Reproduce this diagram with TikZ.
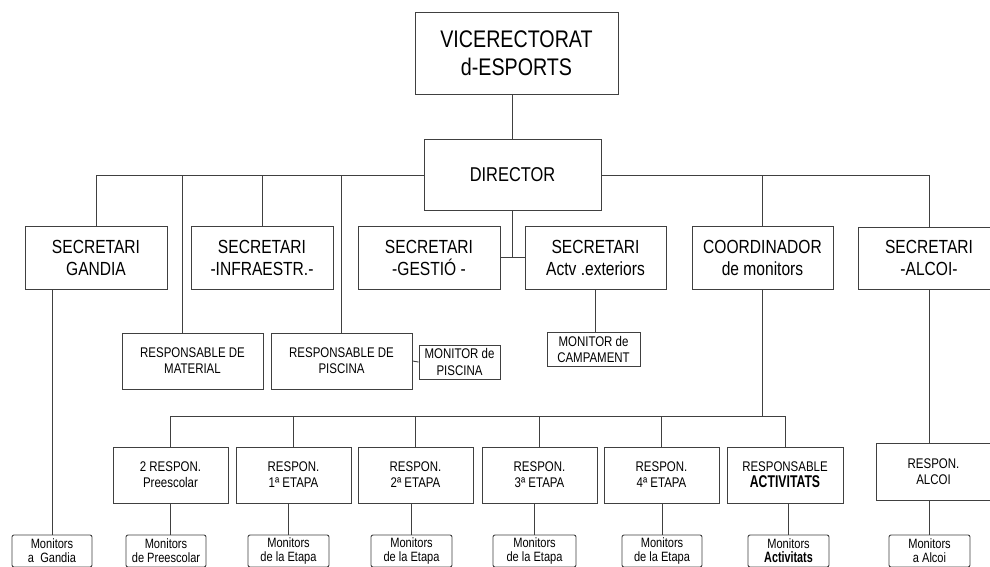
\documentclass[tikz,border=0pt]{standalone}
\usepackage{fontspec}
\setmainfont{Liberation Sans}[FakeStretch=0.82]
\newfontfamily\condb{Liberation Sans}[FakeStretch=0.72]
\begin{document}
\begin{tikzpicture}[x=1pt,y=-1pt,
  box/.style={draw=black!75, line width=0.9pt, inner sep=0pt, align=center, fill=white},
  mbox/.style={box, rounded corners=2pt},
  big/.style={font=\fontsize{19}{22}\selectfont},
  small/.style={font=\fontsize{14}{16}\selectfont},
  tiny/.style={font=\fontsize{13.5}{14}\selectfont},
  conn/.style={draw=black!75, line width=0.9pt}]
\clip (0,0) rectangle (990,566);
\fill[white] (0,0) rectangle (990,566);

% top
\node[box, minimum width=203, minimum height=82, font=\fontsize{24}{28}\selectfont] (vice) at (516.5,53) {VICERECTORAT\\d-ESPORTS};
\node[box, minimum width=177, minimum height=71, font=\fontsize{20}{23}\selectfont] (dir) at (512.5,175) {DIRECTOR};

% second row
\node[box, big, minimum width=142, minimum height=63] (gandia) at (96,257.5) {SECRETARI\\GANDIA};
\node[box, big, minimum width=142, minimum height=63] (infra) at (262,257.5) {SECRETARI\\-INFRAESTR.-};
\node[box, big, minimum width=142, minimum height=63] (gestio) at (429,257.5) {SECRETARI\\-GESTIÓ -};
\node[box, big, minimum width=141, minimum height=63] (actv) at (595.5,257.5) {SECRETARI\\Actv .exteriors};
\node[box, big, minimum width=141, minimum height=63] (coord) at (762.5,257.5) {COORDINADOR\\de monitors};
\node[box, big, minimum width=142, minimum height=62] (alcoi) at (929,258) {SECRETARI\\-ALCOI-};

% third row
\node[box, small, minimum width=141, minimum height=56] (material) at (192.5,361) {RESPONSABLE DE\\MATERIAL};
\node[box, small, minimum width=141, minimum height=56] (piscina) at (341.5,361) {RESPONSABLE DE\\PISCINA};
\node[box, font=\fontsize{14}{17}\selectfont, minimum width=81, minimum height=34] (monpis) at (459.5,362) {MONITOR de\\PISCINA};
\node[box, font=\fontsize{14}{16}\selectfont, minimum width=93, minimum height=34] (camp) at (593.5,349) {MONITOR de\\CAMPAMENT};

% responsables row
\node[box, small, minimum width=115, minimum height=56] (presc) at (170.5,475) {2 RESPON.\\Preescolar};
\node[box, small, minimum width=115, minimum height=56] (et1) at (293.5,475) {RESPON.\\1ª ETAPA};
\node[box, small, minimum width=115, minimum height=56] (et2) at (415.5,475) {RESPON.\\2ª ETAPA};
\node[box, small, minimum width=115, minimum height=56] (et3) at (539.5,475) {RESPON.\\3ª ETAPA};
\node[box, small, minimum width=115, minimum height=56] (et4) at (661.5,475) {RESPON.\\4ª ETAPA};
\node[box, small, minimum width=116, minimum height=56] (act) at (785,475) {RESPONSABLE\\{\condb\bfseries\fontsize{17}{17}\selectfont ACTIVITATS}};
\node[box, small, minimum width=115, minimum height=57] (ralcoi) at (933.5,471.5) {RESPON.\\ALCOI};

% monitors row
\node[mbox, tiny, minimum width=80, minimum height=32] (mg) at (52,551) {Monitors\\a\ \ Gandia};
\node[mbox, tiny, minimum width=80, minimum height=32] (mp) at (166,551) {Monitors\\de Preescolar};
\node[mbox, tiny, minimum width=81, minimum height=32] (m1) at (288.5,551) {Monitors\\de la Etapa};
\node[mbox, tiny, minimum width=81, minimum height=32] (m2) at (411.5,551) {Monitors\\de la Etapa};
\node[mbox, tiny, minimum width=83, minimum height=32] (m3) at (534.5,551) {Monitors\\de la Etapa};
\node[mbox, tiny, minimum width=80, minimum height=32] (m4) at (662,551) {Monitors\\de la Etapa};
\node[mbox, tiny, minimum width=81, minimum height=32] (ma) at (788.5,551) {Monitors\\{\condb\bfseries\fontsize{15}{14}\selectfont Activitats}};
\node[mbox, tiny, minimum width=81, minimum height=32] (mal) at (929.5,551) {Monitors\\a Alcoi};

% connectors
\draw[conn] (dir.north) -- (dir.north |- vice.south);
\draw[conn] (dir.west) -| (gandia.north);
\draw[conn] (dir.west) -| ([xshift=-10.5pt]material.north);
\draw[conn] (dir.west) -| (infra.north);
\draw[conn] (dir.west) -| (piscina.north);
\draw[conn] (dir.east) -| (coord.north);
\draw[conn] (dir.east) -| (alcoi.north);
\draw[conn] (dir.south) -- (dir.south |- gestio.east);
\draw[conn] (gestio.east) -- (actv.west);
\draw[conn] (mg.north |- gandia.south) -- (mg.north);
\draw[conn] (actv.south) -- (actv.south |- camp.north);
\draw[conn] (piscina.east) -- (monpis.west);
\coordinate (bus) at (762.5,416);
\draw[conn] (coord.south) -- (bus);
\draw[conn] (bus) -| (presc.north);
\draw[conn] (bus) -| (et1.north);
\draw[conn] (bus) -| (et2.north);
\draw[conn] (bus) -| (et3.north);
\draw[conn] (bus) -| (et4.north);
\draw[conn] (bus) -| (act.north);
\draw[conn] (alcoi.south) -- (alcoi.south |- ralcoi.north);
\draw[conn] (presc.south) -- (presc.south |- mp.north);
\draw[conn] (m1.north |- et1.south) -- (m1.north);
\draw[conn] (m2.north |- et2.south) -- (m2.north);
\draw[conn] (m3.north |- et3.south) -- (m3.north);
\draw[conn] (m4.north |- et4.south) -- (m4.north);
\draw[conn] (ma.north |- act.south) -- (ma.north);
\draw[conn] (mal.north |- ralcoi.south) -- (mal.north);
\end{tikzpicture}
\end{document}
